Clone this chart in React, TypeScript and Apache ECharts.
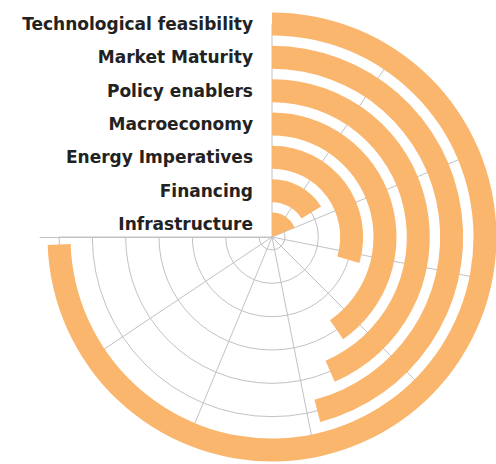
import React, { useEffect, useRef } from 'react';
import * as echarts from 'echarts';

const categories = [
  'Infrastructure',
  'Financing',
  'Energy Imperatives',
  'Macroeconomy',
  'Policy enablers',
  'Market Maturity',
  'Technological feasibility',
];
const values = [1.0, 0.86, 1.58, 2.15, 2.32, 2.45, 3.97];
const angleMax = 4;
const angleStep = 0.5;

const GRID = '#c2c2c2';
const CENTER = [272, 237];
const RADIUS = [13, 213];

const hidden = {
  axisLine: { show: false },
  axisTick: { show: false },
  axisLabel: { show: false },
  splitLine: { show: false },
};

export default function App() {
  const ref = useRef<HTMLDivElement>(null);
  useEffect(() => {
    const chart = echarts.init(ref.current!, null, { renderer: 'svg' });
    chart.setOption({
      animation: false,
      polar: [
        { center: CENTER, radius: RADIUS },
        { center: CENTER, radius: [0, 232] },
        { center: CENTER, radius: RADIUS },
        { center: CENTER, radius: [0, RADIUS[1]] },
      ],
      angleAxis: [
        {
          polarIndex: 0,
          type: 'value',
          min: 0,
          max: angleMax,
          interval: angleStep,
          startAngle: 90,
          endAngle: -180,
          clockwise: true,
          ...hidden,
        },
        { polarIndex: 1, type: 'value', startAngle: 180, ...hidden },
        { polarIndex: 2, type: 'value', min: 0, max: angleMax, startAngle: 90, endAngle: -180, ...hidden },
        {
          polarIndex: 3,
          type: 'value',
          min: 0,
          max: angleMax,
          interval: angleStep,
          startAngle: 90,
          endAngle: -180,
          clockwise: true,
          z: 0,
          axisLine: { show: false },
          axisTick: { show: false },
          axisLabel: { show: false },
          splitLine: { show: true, lineStyle: { color: GRID, width: 1 } },
        },
      ],
      radiusAxis: [
        {
          polarIndex: 0,
          type: 'category',
          data: categories,
          boundaryGap: false,
          z: 10,
          axisLine: { show: false },
          axisTick: { show: false },
          axisLabel: {
            show: true,
            interval: 0,
            margin: 19,
            fontFamily: 'DejaVu Sans',
            fontWeight: 'bold',
            fontSize: 17,
            color: '#222222',
          },
          splitLine: { show: false },
        },
        {
          polarIndex: 1,
          type: 'value',
          z: 0,
          axisLine: { show: true, lineStyle: { color: GRID, width: 1 } },
          axisTick: { show: false },
          axisLabel: { show: false },
          splitLine: { show: false },
        },
        {
          polarIndex: 2,
          type: 'category',
          data: categories,
          boundaryGap: false,
          z: 0,
          axisLine: { show: false },
          axisTick: { show: false, interval: 0 },
          axisLabel: { show: false, interval: 0 },
          splitLine: { show: true, interval: 0, lineStyle: { color: GRID, width: 1 } },
        },
        { polarIndex: 3, type: 'value', z: 0, ...hidden },
      ],
      graphic: [
        {
          type: 'rect',
          z: 1,
          shape: { x: 0, y: 0, width: CENTER[0] - 1, height: CENTER[1] - 1 },
          style: { fill: '#ffffff' },
          silent: true,
        },
      ],
      series: [
        {
          type: 'bar',
          coordinateSystem: 'polar',
          polarIndex: 0,
          data: values,
          barWidth: 23,
          clip: false,
          itemStyle: { color: '#fbb66e' },
          z: 3,
        },
      ],
    });
    return () => chart.dispose();
  }, []);
  return (
    <div
      ref={ref}
      style={{ position: 'fixed', left: 0, top: 0, width: 496, height: 464, background: '#fff' }}
    />
  );
}
